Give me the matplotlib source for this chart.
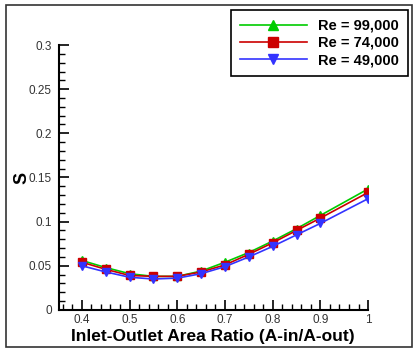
import numpy as np
import matplotlib.pyplot as plt
import matplotlib.patches as patches
from matplotlib.ticker import MultipleLocator

plt.rcParams['font.family'] = ['Liberation Sans', 'DejaVu Sans']

ratio = [0.4, 0.45, 0.5, 0.55, 0.6, 0.65, 0.7, 0.75, 0.8, 0.85, 0.9, 1.0]
s_99k = [0.056, 0.048, 0.041, 0.038, 0.038, 0.044, 0.054, 0.065, 0.078, 0.092, 0.107, 0.137]
s_74k = [0.054, 0.046, 0.039, 0.038, 0.038, 0.043, 0.051, 0.063, 0.076, 0.090, 0.104, 0.133]
s_49k = [0.050, 0.043, 0.037, 0.035, 0.036, 0.041, 0.049, 0.060, 0.072, 0.085, 0.098, 0.126]
labels = ['Re = 99,000', 'Re = 74,000', 'Re = 49,000']

fig = plt.figure(figsize=(4.15, 3.49), dpi=100)
ax = fig.add_axes([0.142, 0.112, 0.745, 0.759])

ax.plot(ratio, s_99k, color='#00cc00', marker='^', ms=6, lw=1.2, label=labels[0])
ax.plot(ratio, s_74k, color='#cc0000', marker='s', ms=6, lw=1.2, label=labels[1])
ax.plot(ratio, s_49k, color='#3333ff', marker='v', ms=6, lw=1.2, label=labels[2])

ax.set_xlim(0.352, 1.0)
ax.set_ylim(0, 0.3)
ax.xaxis.set_minor_locator(MultipleLocator(0.02))
ax.yaxis.set_minor_locator(MultipleLocator(0.01))
ax.set_xticks([0.4, 0.5, 0.6, 0.7, 0.8, 0.9, 1.0])
ax.set_xticklabels(['0.4', '0.5', '0.6', '0.7', '0.8', '0.9', '1'])
ax.set_yticks([0, 0.05, 0.1, 0.15, 0.2, 0.25, 0.3])
ax.set_yticklabels(['0', '0.05', '0.1', '0.15', '0.2', '0.25', '0.3'])

for side in ['top', 'right']:
    ax.spines[side].set_visible(False)
for side in ['left', 'bottom']:
    ax.spines[side].set_linewidth(1.5)

ax.tick_params(which='major', direction='in', length=7, width=1.2, labelsize=8.5,
               labelcolor='#333333')
ax.tick_params(axis='x', which='major', pad=3)
ax.tick_params(axis='y', which='major', pad=5)
ax.tick_params(which='minor', direction='in', length=4, width=1.0)

ax.set_xlabel('Inlet-Outlet Area Ratio (A-in/A-out)', fontsize=12.5, fontweight='bold')
ax.xaxis.set_label_coords(0.498, -0.102)
ax.xaxis.label.set_va('center')
ax.set_ylabel('S', fontsize=13, fontweight='bold')
ax.yaxis.set_label_coords(-0.12, 0.498)
ax.yaxis.label.set_va('center')

leg = ax.legend(loc='upper right', bbox_to_anchor=(408 / 415, 1 - 10 / 349),
                bbox_transform=fig.transFigure, fancybox=False,
                edgecolor='black', framealpha=1, handlelength=4.6, handletextpad=0.8,
                prop={'weight': 'bold', 'size': 10.5}, borderaxespad=0, labelspacing=0.22,
                borderpad=0.6, markerscale=1.15)
leg.get_frame().set_linewidth(1.2)

fig.patches.append(patches.Rectangle((6 / 415, 2 / 349), 406 / 415, 342 / 349,
                                     transform=fig.transFigure, fill=False,
                                     edgecolor='#333333', lw=1.2))

fig.savefig('out.png', dpi=100)
